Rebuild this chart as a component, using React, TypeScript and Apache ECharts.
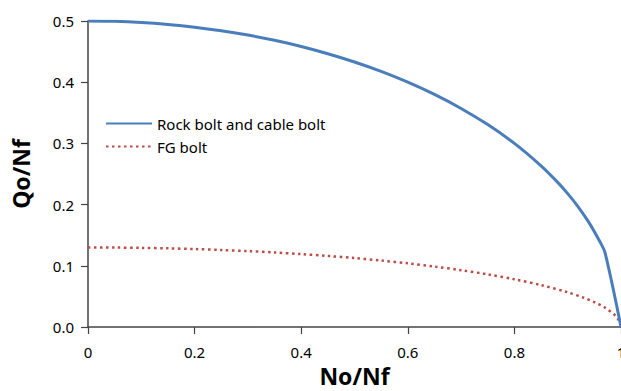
import React, { useEffect, useRef } from "react";
import * as echarts from "echarts";

const xRock = [0, 0.05, 0.1, 0.15, 0.2, 0.25, 0.3, 0.35, 0.4, 0.45, 0.5, 0.55, 0.6, 0.65, 0.7, 0.75, 0.8, 0.85, 0.88, 0.9, 0.92, 0.94, 0.96, 0.97, 1.0];
const yRock = [0.5, 0.4994, 0.4975, 0.4943, 0.4899, 0.4841, 0.477, 0.4684, 0.4583, 0.4465, 0.433, 0.4176, 0.4, 0.38, 0.3571, 0.3307, 0.3, 0.2634, 0.2375, 0.2179, 0.196, 0.1706, 0.14, 0.1216, 0.0];

const xFG = [0, 0.05, 0.1, 0.15, 0.2, 0.25, 0.3, 0.35, 0.4, 0.45, 0.5, 0.55, 0.6, 0.65, 0.7, 0.75, 0.8, 0.85, 0.9, 0.93, 0.95, 0.97, 0.99, 1.0];
const yFG = [0.13, 0.1298, 0.1293, 0.1285, 0.1274, 0.1259, 0.124, 0.1218, 0.1191, 0.1161, 0.1126, 0.1086, 0.104, 0.0988, 0.0928, 0.086, 0.078, 0.0685, 0.0567, 0.0478, 0.0406, 0.0316, 0.018, 0.005];

const seriesNames = ["Rock bolt and cable bolt", "FG bolt"];
const xAxisTitle = "No/Nf";
const yAxisTitle = "Qo/Nf";

const FONT = "'Noto Sans', 'Liberation Sans', sans-serif";

export default function App() {
  const ref = useRef<HTMLDivElement>(null);
  useEffect(() => {
    if (!ref.current) return;
    const chart = echarts.init(ref.current, undefined, { renderer: "svg" });
    chart.setOption({
      animation: false,
      backgroundColor: "#ffffff",
      textStyle: { fontFamily: FONT },
      grid: { left: 88, right: 0, top: 21, bottom: 64, containLabel: false, outerBoundsMode: "none" },
      legend: {
        orient: "vertical",
        left: 100,
        top: 111,
        itemWidth: 46,
        itemHeight: 12,
        itemGap: 8,
        itemStyle: { opacity: 0 },
        textStyle: { fontSize: 15, color: "#000", fontFamily: FONT },
        data: seriesNames,
      },
      xAxis: {
        type: "value",
        min: 0,
        max: 1,
        interval: 0.2,
        name: xAxisTitle,
        nameLocation: "middle",
        nameGap: 37,
        nameTextStyle: { fontSize: 23, fontWeight: "bold", color: "#000", fontFamily: FONT },
        axisLine: { lineStyle: { color: "#444", width: 1.5 } },
        axisTick: { show: true, length: 7, inside: false, lineStyle: { color: "#444", width: 1.2 } },
        axisLabel: {
          fontSize: 15,
          color: "#000",
          margin: 17,
          formatter: (v: number) => (v === 0 ? "0" : v === 1 ? "1" : v.toFixed(1)),
        },
        splitLine: { show: false },
      },
      yAxis: {
        type: "value",
        min: 0,
        max: 0.5,
        interval: 0.1,
        name: yAxisTitle,
        nameLocation: "middle",
        nameGap: 56,
        nameRotate: 90,
        nameTextStyle: { fontSize: 23, fontWeight: "bold", color: "#000", fontFamily: FONT },
        axisLine: { show: true, lineStyle: { color: "#444", width: 1.5 } },
        axisTick: { show: true, length: 7, inside: false, lineStyle: { color: "#444", width: 1.2 } },
        axisLabel: {
          fontSize: 15,
          color: "#000",
          margin: 14,
          formatter: (v: number) => v.toFixed(1),
        },
        splitLine: { show: false },
      },
      series: [
        {
          name: seriesNames[0],
          type: "line",
          data: xRock.map((x, i) => [x, yRock[i]]),
          symbol: "none",
          smooth: 0.3,
          color: "#4a7ebb",
          lineStyle: { color: "#4a7ebb", width: 3 },
          z: 3,
        },
        {
          name: seriesNames[1],
          type: "line",
          data: xFG.map((x, i) => [x, yFG[i]]),
          symbol: "none",
          smooth: 0.3,
          color: "#be4b48",
          lineStyle: { color: "#be4b48", width: 2.5, type: [2.5, 3.5] },
          z: 2,
        },
      ],
    });
    return () => chart.dispose();
  }, []);
  return (
    <div
      ref={ref}
      style={{ position: "fixed", left: 0, top: 0, width: 621, height: 391 }}
    />
  );
}
